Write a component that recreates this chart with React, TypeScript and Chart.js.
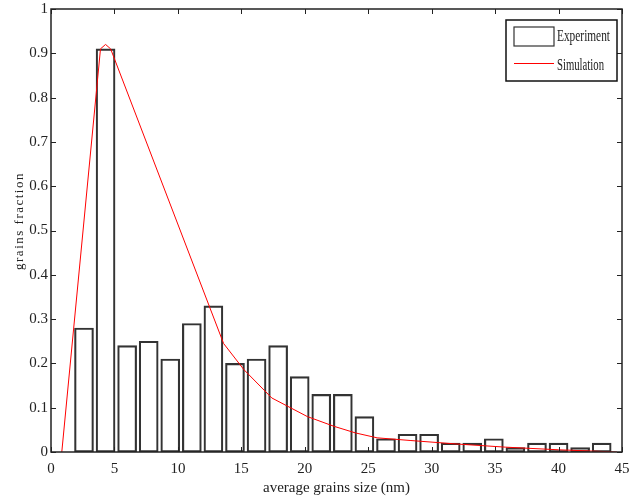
import React, { useEffect, useRef } from "react";
import { Chart, registerables } from "chart.js";

Chart.register(...registerables);

// Histogram bin centres (nm) and measured fractions
const binCenters = [2.6, 4.3, 6.0, 7.7, 9.4, 11.1, 12.8, 14.5, 16.2, 17.9, 19.6, 21.3, 23.0, 24.7, 26.4, 28.1, 29.8, 31.5, 33.2, 34.9, 36.6, 38.3, 40.0, 41.7, 43.4];
const experimentValues = [0.28, 0.91, 0.24, 0.25, 0.21, 0.29, 0.33, 0.2, 0.21, 0.24, 0.17, 0.13, 0.13, 0.08, 0.03, 0.04, 0.04, 0.02, 0.02, 0.03, 0.01, 0.02, 0.02, 0.01, 0.02];

// Simulation curve
const simX = [0.85, 3.9, 4.3, 4.7, 13.6, 15.2, 17.4, 20.2, 22.3, 24.0, 25.7, 28.3, 32.0, 35.8, 40.0, 44.6];
const simY = [0, 0.91, 0.92, 0.91, 0.245, 0.186, 0.122, 0.08, 0.058, 0.043, 0.032, 0.026, 0.018, 0.011, 0.005, 0];

const xTicks = [0, 5, 10, 15, 20, 25, 30, 35, 40, 45];
const yTicks = [0, 0.1, 0.2, 0.3, 0.4, 0.5, 0.6, 0.7, 0.8, 0.9, 1];

const yTitle = "grains fraction";
const xTitle = "average grains size (nm)";

const FONT = "'Liberation Serif', 'Times New Roman', serif";

const framePlugin = {
  id: "frame",
  afterDraw(chart: any) {
    const { ctx, chartArea: a, scales } = chart;
    ctx.save();
    ctx.strokeStyle = "#222";
    ctx.lineWidth = 1;
    const tl = 5;
    ctx.beginPath();
    xTicks.forEach((v) => {
      const px = Math.round(scales.x.getPixelForValue(v)) + 0.5;
      ctx.moveTo(px, a.bottom);
      ctx.lineTo(px, a.bottom - tl);
      ctx.moveTo(px, a.top);
      ctx.lineTo(px, a.top + tl);
    });
    yTicks.forEach((v) => {
      const py = Math.round(scales.y.getPixelForValue(v)) + 0.5;
      ctx.moveTo(a.left, py);
      ctx.lineTo(a.left + tl, py);
      ctx.moveTo(a.right, py);
      ctx.lineTo(a.right - tl, py);
    });
    ctx.stroke();
    ctx.lineWidth = 1.5;
    ctx.strokeRect(a.left, a.top, a.right - a.left, a.bottom - a.top);

    // y-axis title (letter-spaced, rotated)
    ctx.save();
    ctx.fillStyle = "#222";
    ctx.font = `13px ${FONT}`;
    (ctx as any).letterSpacing = "1.5px";
    ctx.textAlign = "center";
    ctx.textBaseline = "middle";
    ctx.translate(19.5, 221);
    ctx.rotate(-Math.PI / 2);
    ctx.fillText(yTitle, 0, 0);
    ctx.restore();

    // Legend
    const w = 111;
    const h = 61;
    const lx = a.right - 5 - w;
    const ly = a.top + 11;
    ctx.fillStyle = "#fff";
    ctx.fillRect(lx, ly, w, h);
    ctx.lineWidth = 1.5;
    ctx.strokeStyle = "#111";
    ctx.strokeRect(lx, ly, w, h);

    const ds = chart.data.datasets;
    ctx.lineWidth = 1.2;
    ctx.strokeStyle = "#333";
    ctx.strokeRect(lx + 8, ly + 7, 40, 19);
    ctx.strokeStyle = "#ff0000";
    ctx.lineWidth = 1;
    ctx.beginPath();
    ctx.moveTo(lx + 8, ly + 43.5);
    ctx.lineTo(lx + 48, ly + 43.5);
    ctx.stroke();

    ctx.fillStyle = "#222";
    ctx.font = `16px ${FONT}`;
    ctx.textBaseline = "middle";
    ctx.textAlign = "left";
    const drawText = (t: string, x: number, y: number, maxW: number) => {
      const m = ctx.measureText(t).width;
      const s = Math.min(1, maxW / m);
      ctx.save();
      ctx.translate(x, y);
      ctx.scale(s, 1);
      ctx.fillText(t, 0, 0);
      ctx.restore();
    };
    drawText(ds[0].label, lx + 51, ly + 17, 53);
    drawText(ds[1].label, lx + 51, ly + 46, 47);
    ctx.restore();
  },
};

export default function App() {
  const ref = useRef<HTMLCanvasElement>(null);
  useEffect(() => {
    const canvas = ref.current;
    if (!canvas) return;
    const chart = new Chart(canvas, {
      type: "bar",
      data: {
        datasets: [
          {
            type: "bar",
            label: "Experiment",
            data: binCenters.map((x, i) => ({ x, y: experimentValues[i] })),
            backgroundColor: "rgba(255,255,255,0)",
            borderColor: "#333",
            borderWidth: 1.5,
            borderSkipped: false,
            barThickness: 19,
            order: 2,
          } as any,
          {
            type: "line",
            label: "Simulation",
            data: simX.map((x, i) => ({ x, y: simY[i] })),
            borderColor: "#ff0000",
            borderWidth: 1,
            pointRadius: 0,
            tension: 0,
            fill: false,
            order: 1,
          } as any,
        ],
      },
      options: {
        animation: false,
        responsive: false,
        maintainAspectRatio: false,
        layout: { padding: { top: 9, right: 10, left: 0, bottom: 0 } },
        plugins: { legend: { display: false }, tooltip: { enabled: false } },
        scales: {
          x: {
            type: "linear",
            min: 0,
            max: 45,
            offset: false,
            grid: { display: false, drawTicks: false },
            border: { display: false },
            afterBuildTicks: (s: any) => {
              s.ticks = xTicks.map((v) => ({ value: v }));
            },
            afterFit: (s: any) => {
              s.height = 52;
              s.paddingLeft = 0;
              s.paddingRight = 0;
            },
            ticks: {
              padding: 8,
              color: "#222",
              font: { family: FONT, size: 15 },
              maxRotation: 0,
              callback: (v: any) => String(v),
            },
            title: {
              display: true,
              text: xTitle,
              color: "#222",
              font: { family: FONT, size: 15 },
              padding: { top: 0, bottom: 7 },
            },
          },
          y: {
            type: "linear",
            min: 0,
            max: 1,
            grid: { display: false, drawTicks: false },
            border: { display: false },
            afterBuildTicks: (s: any) => {
              s.ticks = yTicks.map((v) => ({ value: v }));
            },
            afterFit: (s: any) => {
              s.width = 51;
              s.paddingTop = 0;
              s.paddingBottom = 0;
            },
            ticks: {
              padding: 3,
              color: "#222",
              font: { family: FONT, size: 15 },
              callback: (v: any) => String(Math.round(Number(v) * 10) / 10),
            },
          },
        },
      },
      plugins: [framePlugin],
    });
    return () => chart.destroy();
  }, []);
  return (
    <div style={{ position: "fixed", left: 0, top: 0, width: 632, height: 504, background: "#fff" }}>
      <canvas ref={ref} width={632} height={504} style={{ width: 632, height: 504, display: "block" }} />
    </div>
  );
}
